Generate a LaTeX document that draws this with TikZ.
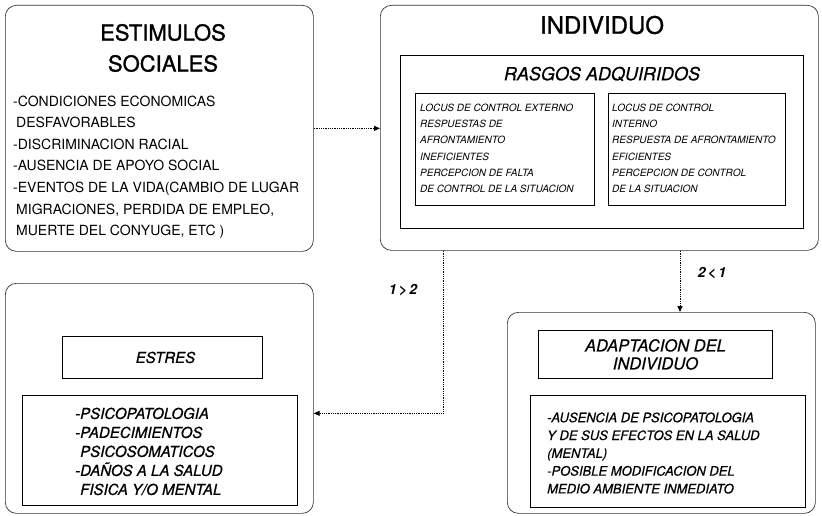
\documentclass[tikz,border=0pt]{standalone}
\usepackage{fontspec}
\setmainfont{TeX Gyre Heros}
\newfontfamily\titlefont[FakeBold=1.2]{TeX Gyre Heros}
\newfontfamily\medfont[FakeBold=0.6]{TeX Gyre Heros}
\usetikzlibrary{arrows.meta,calc}
\begin{document}
\begin{tikzpicture}[x=1pt,y=-1pt,
  outerbox/.style={draw=black!80, line width=0.7pt, rounded corners=11pt, anchor=north west, inner sep=0pt},
  innerbox/.style={draw, line width=0.9pt, anchor=north west, inner sep=0pt},
  conn/.style={densely dotted, line width=0.8pt, -{Triangle[length=6pt,width=5pt]}},
  txt/.style={inner sep=0pt, align=left, anchor=north west},
  bigtitle/.style={inner sep=0pt, align=center},
  lbl/.style={inner sep=0pt, font=\fontsize{14}{16}\selectfont\bfseries\itshape}]
\useasboundingbox (0,0) rectangle (822,516);
% ---- boxes ----
\node[outerbox, minimum width=308pt, minimum height=246pt] (A) at (5,5) {};
\node[outerbox, minimum width=438pt, minimum height=245pt] (B) at (380,5) {};
\node[innerbox, minimum width=403pt, minimum height=173pt] (R) at (400,55) {};
\node[innerbox, minimum width=179pt, minimum height=112pt] (L1) at (415,93) {};
\node[innerbox, minimum width=177pt, minimum height=112pt] (L2) at (608,93) {};
\node[outerbox, minimum width=308pt, minimum height=230pt] (C) at (5,283) {};
\node[innerbox, minimum width=200pt, minimum height=42pt] (Ct) at (62,336) {};
\node[innerbox, minimum width=275pt, minimum height=110pt] (Cc) at (22,395) {};
\node[outerbox, minimum width=308pt, minimum height=201pt] (D) at (507,312) {};
\node[innerbox, minimum width=234pt, minimum height=48pt] (Dt) at (538,330) {};
\node[innerbox, minimum width=275pt, minimum height=112pt] (Dc) at (530,395) {};
% ---- texts ----
\node[bigtitle, font=\titlefont\fontsize{22}{31}\selectfont] (At) at (163,48) {ESTIMULOS\\SOCIALES};
\node[txt, font=\fontsize{14}{21.6}\selectfont] (Al) at (13,95.5)
 {-CONDICIONES ECONOMICAS\\
  \hspace{3pt}DESFAVORABLES\\
  -DISCRIMINACION RACIAL\\
  -AUSENCIA DE APOYO SOCIAL\\
  -EVENTOS DE LA VIDA(CAMBIO DE LUGAR\\
  \hspace{3pt}MIGRACIONES, PERDIDA DE EMPLEO,\\
  \hspace{3pt}MUERTE DEL CONYUGE, ETC )};
\node[bigtitle, font=\titlefont\fontsize{24}{28}\selectfont] (Bt) at (602,25) {INDIVIDUO};
\node[bigtitle, font=\medfont\fontsize{18}{22}\selectfont\itshape] (Rt) at (602,74) {RASGOS ADQUIRIDOS};
\node[txt, font=\fontsize{10}{16.3}\selectfont\itshape] (L1t) at (420,103.5)
 {LOCUS DE CONTROL EXTERNO\\
  RESPUESTAS DE\\
  AFRONTAMIENTO\\
  INEFICIENTES\\
  PERCEPCION DE FALTA\\
  DE CONTROL DE LA SITUACION};
\node[txt, font=\fontsize{10}{16.3}\selectfont\itshape] (L2t) at (612,103.5)
 {LOCUS DE CONTROL\\
  INTERNO\\
  RESPUESTA DE AFRONTAMIENTO\\
  EFICIENTES\\
  PERCEPCION DE CONTROL\\
  DE LA SITUACION};
\node[bigtitle, font=\medfont\fontsize{15}{18}\selectfont\itshape] (Ctt) at ($(Ct.center)+(3,0)$) {ESTRES};
\node[txt, font=\medfont\fontsize{15}{19}\selectfont\itshape] (Cct) at (75,407.5)
 {-PSICOPATOLOGIA\\
  -PADECIMIENTOS\\
  \hspace{5pt}PSICOSOMATICOS\\
  -DAÑOS A LA SALUD\\
  \hspace{5pt}FISICA Y/O MENTAL};
\node[bigtitle, font=\medfont\fontsize{16.5}{18}\selectfont\itshape] (Dtt) at (Dt.center) {ADAPTACION DEL\\INDIVIDUO};
\node[txt, font=\medfont\fontsize{13}{17.8}\selectfont\itshape] (Dct) at (547,412.3)
 {-AUSENCIA DE PSICOPATOLOGIA\\
  Y DE SUS EFECTOS EN LA SALUD\\
  (MENTAL)\\
  -POSIBLE MODIFICACION DEL\\
  MEDIO AMBIENTE INMEDIATO};
% ---- connectors ----
\draw[conn] (A.east) -- (A.east -| B.west);
\coordinate (b1) at ($(B.south west)+(63,0)$);
\coordinate (b2) at ($(B.south west)+(300,0)$);
\draw[conn] (b1) |- ($(C.east)+(0,15)$);
\draw[conn] (b2) -- (b2 |- D.north);
\node[lbl] (l12) at (403,290) {1\,>\,2};
\node[lbl] (l21) at (712,273) {2\,<\,1};
\end{tikzpicture}
\end{document}
